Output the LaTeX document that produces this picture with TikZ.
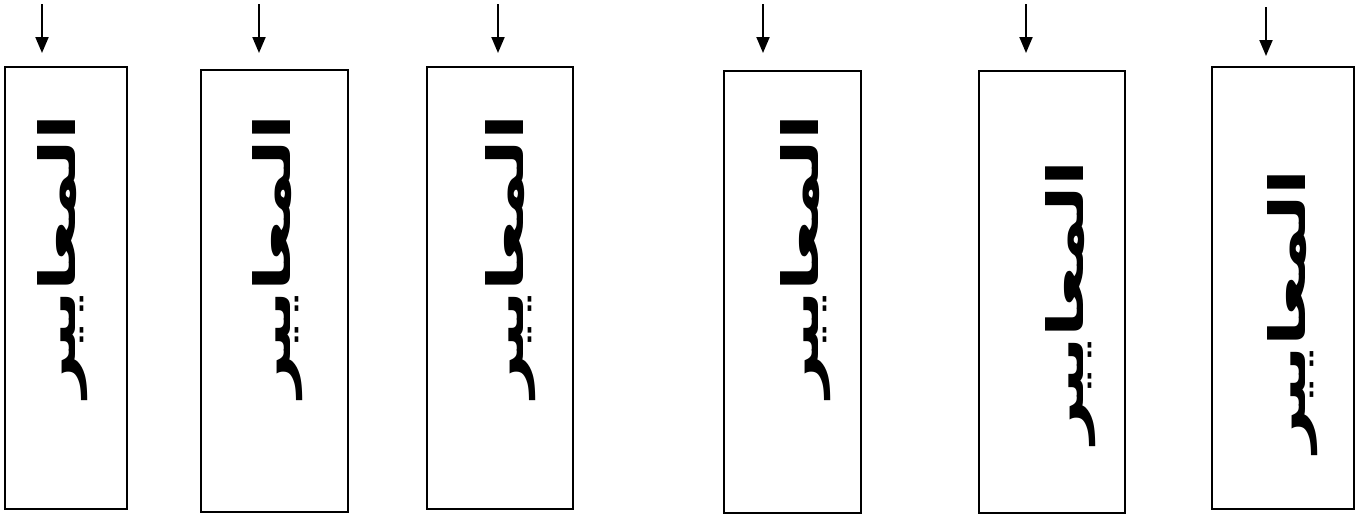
\documentclass[tikz,border=0pt]{standalone}
\usepackage{fontspec}
\usetikzlibrary{arrows.meta}
\newfontfamily\arabicfont[Script=Arabic]{DejaVu Sans}
\TeXXeTstate=1
\newcommand{\criteria}{\scalebox{1.52}[1]{\beginR المعايير\endR}}
\begin{document}
\begin{tikzpicture}[x=1pt, y=-1pt,
    box/.style={draw, line width=1.8pt, inner sep=0pt},
    word/.style={rotate=90, inner sep=0pt, font=\arabicfont\bfseries\fontsize{50}{60}\selectfont},
    arr/.style={-{Triangle[length=16pt,width=13pt]}, line width=2pt}]
    \useasboundingbox (0,0) rectangle (1364,515);
    \node (b1) [box, minimum width=122pt, minimum height=442pt] at (66,288) {};
    \node (b2) [box, minimum width=147pt, minimum height=442pt] at (274.5,291) {};
    \node (b3) [box, minimum width=146pt, minimum height=442pt] at (500,288) {};
    \node (b4) [box, minimum width=137pt, minimum height=442pt] at (792.5,292) {};
    \node (b5) [box, minimum width=146pt, minimum height=442pt] at (1052,292) {};
    \node (b6) [box, minimum width=142pt, minimum height=442pt] at (1283,288) {};
    \node (w1) [word] at (63,256) {\criteria};
    \node (w2) [word] at (278,256) {\criteria};
    \node (w3) [word] at (511,256) {\criteria};
    \node (w4) [word] at (806,256) {\criteria};
    \node (w5) [word] at (1071,302) {\criteria};
    \node (w6) [word] at (1293,311) {\criteria};
    \coordinate (t1) at (42,4);    \coordinate (h1) at (42,53);
    \coordinate (t2) at (259,4);   \coordinate (h2) at (259,53);
    \coordinate (t3) at (498,4);   \coordinate (h3) at (498,53);
    \coordinate (t4) at (763,4);   \coordinate (h4) at (763,53);
    \coordinate (t5) at (1026,4);  \coordinate (h5) at (1026,53);
    \coordinate (t6) at (1266,7);  \coordinate (h6) at (1266,56);
    \draw[arr] (t1) -- (h1);
    \draw[arr] (t2) -- (h2);
    \draw[arr] (t3) -- (h3);
    \draw[arr] (t4) -- (h4);
    \draw[arr] (t5) -- (h5);
    \draw[arr] (t6) -- (h6);
\end{tikzpicture}
\end{document}
